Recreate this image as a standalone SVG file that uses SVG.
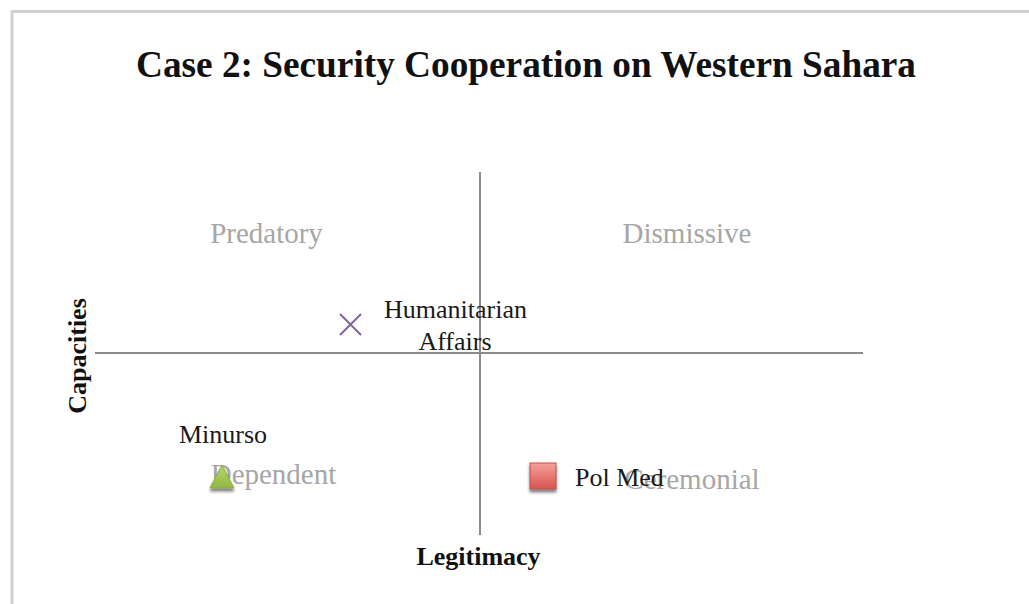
<svg xmlns="http://www.w3.org/2000/svg" width="1029" height="604" viewBox="0 0 1029 604">
<style>
.q{font-family:"Liberation Serif",serif;font-size:29px;fill:#a6a6a6}
.l{font-family:"Liberation Serif",serif;font-size:26px;fill:#1a1a1a}
.b{font-family:"Liberation Serif",serif;font-size:26px;font-weight:bold;fill:#111}
.ax{stroke:#8c8c8c;stroke-width:2;fill:none}
</style>
<defs>
<linearGradient id="gr" x1="0" y1="0" x2="0" y2="1"><stop offset="0" stop-color="#f4a09c"/><stop offset="1" stop-color="#d9534f"/></linearGradient>
<linearGradient id="gg" x1="0" y1="0" x2="0" y2="1"><stop offset="0" stop-color="#b5d56f"/><stop offset="1" stop-color="#8fba3f"/></linearGradient>
<filter id="sh" x="-50%" y="-50%" width="200%" height="200%"><feGaussianBlur in="SourceAlpha" stdDeviation="1.5"/><feOffset dy="3"/><feComponentTransfer><feFuncA type="linear" slope="0.5"/></feComponentTransfer><feMerge><feMergeNode/><feMergeNode in="SourceGraphic"/></feMerge></filter>
</defs>
<rect width="1029" height="604" fill="#fff"/>
<g id="frame"><path d="M12 604 V11.5 H1029" stroke="#d0d0d0" stroke-width="3" fill="none"/></g>
<g id="title"><text x="526" y="77" text-anchor="middle" font-family="Liberation Serif,serif" font-size="37" font-weight="bold" fill="#111" textLength="780" lengthAdjust="spacingAndGlyphs">Case 2: Security Cooperation on Western Sahara</text></g>
<g id="axes">
<line class="ax" x1="95" y1="353" x2="863" y2="353"/>
<line class="ax" x1="480" y1="172" x2="480" y2="535"/>
</g>
<g id="quadrants">
<text class="q" x="266.5" y="243" text-anchor="middle">Predatory</text>
<text class="q" x="687" y="243" text-anchor="middle">Dismissive</text>
<text class="q" x="273.5" y="484" text-anchor="middle">Dependent</text>
<text class="q" x="692" y="489" text-anchor="middle">Ceremonial</text>
</g>
<g id="axis-labels">
<text class="b" x="478.5" y="565" text-anchor="middle">Legitimacy</text>
<text class="b" transform="translate(86 356) rotate(-90)" text-anchor="middle">Capacities</text>
</g>
<g id="humanitarian">
<path d="M340 314 L361 335 M361 314 L340 335" stroke="#8064a2" stroke-width="2" fill="none"/>
<text class="l" x="455.5" y="318" text-anchor="middle">Humanitarian</text>
<text class="l" x="455" y="350" text-anchor="middle">Affairs</text>
</g>
<g id="minurso">
<polygon points="222,465 234,488 210,488" fill="url(#gg)" stroke="#8aad45" stroke-width="1" filter="url(#sh)"/>
<text class="l" x="223" y="443" text-anchor="middle">Minurso</text>
</g>
<g id="polmed">
<rect x="530" y="463" width="26" height="26" fill="url(#gr)" stroke="#c0504d" stroke-width="1" filter="url(#sh)"/>
<text class="l" x="575" y="486">Pol Med</text>
</g>
</svg>
